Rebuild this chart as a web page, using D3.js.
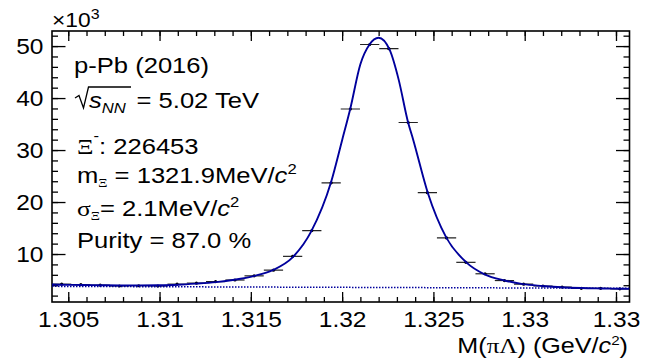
<!DOCTYPE html>
<html>
<head>
<meta charset="utf-8">
<script src="https://cdn.jsdelivr.net/npm/d3@7"></script>
<style>
  body { margin: 0; background: #fff; }
</style>
</head>
<body>
<svg id="chart" width="654" height="361"></svg>
<script>
// invariant mass bins (GeV/c^2) and entries (x10^3)
var binCenters = [1.30464, 1.30569, 1.30675, 1.30780, 1.30886, 1.30991, 1.31096, 1.31202, 1.31307, 1.31413,
                  1.31518, 1.31624, 1.31729, 1.31834, 1.31940, 1.32045, 1.32151, 1.32256, 1.32362, 1.32467,
                  1.32572, 1.32678, 1.32783, 1.32889, 1.32994, 1.33100, 1.33205, 1.33310, 1.33416, 1.33521]
var counts = [4.2, 4.1, 4.0, 3.85, 3.9, 3.85, 4.2, 4.4, 4.7, 5.0,
              5.8, 6.9, 9.55, 14.5, 23.7, 37.9, 50.3, 49.5, 35.3, 21.8,
              13.1, 8.4, 6.2, 4.9, 4.2, 3.85, 3.65, 3.4, 3.4, 3.3]
var binHalfWidth = 0.000527

// fit function (solid)
var fitMass = [1.30411, 1.3046, 1.3057, 1.3068, 1.3078, 1.3089, 1.3099, 1.3110, 1.3120, 1.3131,
               1.3141, 1.3152, 1.3162, 1.3173, 1.3183, 1.3194, 1.3200, 1.32045, 1.3210, 1.3215,
               1.3220, 1.3226, 1.3231, 1.3236, 1.3239, 1.3247, 1.3257, 1.3268, 1.3278, 1.3289,
               1.3299, 1.3310, 1.3320, 1.3331, 1.3342, 1.3352, 1.33574]
var fitCounts = [4.15, 4.1, 4.05, 4.0, 3.97, 3.97, 4.0, 4.1, 4.3, 4.6,
                 5.05, 5.8, 6.9, 9.4, 14.3, 23.9, 31.9, 38.0, 46.5, 50.3,
                 51.6, 49.3, 43.5, 35.5, 31.9, 21.7, 13.2, 8.4, 6.1, 4.9,
                 4.2, 3.85, 3.6, 3.45, 3.38, 3.33, 3.3]
// background (dotted)
var bkgMass = [1.30411, 1.33574]
var bkgCounts = [3.78, 3.40]

var xMajor = [1.305, 1.31, 1.315, 1.32, 1.325, 1.33, 1.335]
var xTickLabels = ["1.305", "1.31", "1.315", "1.32", "1.325", "1.33", "1.33"]
var yMajor = [10, 20, 30, 40, 50]
var yTickLabels = ["10", "20", "30", "40", "50"]

var SX = 1.14      // glyphs in the picture are a bit wider than Helvetica
var SX_TEXT = 1.19 // the legend text even more so
var sans = "'Liberation Sans', Arial, Helvetica, sans-serif"
var serif = "'Liberation Serif', 'Times New Roman', serif"
var fitColor = "#00009c"

var frame = {left: 52, right: 629.5, top: 31, bottom: 302}

var x = d3.scaleLinear().domain([1.30411, 1.33574]).range([frame.left, frame.right])
var y = d3.scaleLinear().domain([0.77, 52.9]).range([frame.bottom, frame.top])

var svg = d3.select("#chart")
svg.append("rect").attr("width", 654).attr("height", 361).attr("fill", "#fff")

svg.append("defs").append("clipPath").attr("id", "plotClip")
  .append("rect")
    .attr("x", frame.left).attr("y", frame.top)
    .attr("width", frame.right - frame.left).attr("height", frame.bottom - frame.top)

var place = function(sel, px, py, sx){
  return sel.attr("transform", "translate(" + px + "," + py + ") scale(" + (sx || SX) + ",1)")
}

/* ticks (ROOT style: inward, mirrored on all sides) */
var xMinor = d3.range(1.305, 1.3355, 0.001)
var yMinor = d3.range(2, 53, 2)

var addAxis = function(axis, tx, ty, cls){
  var g = svg.append("g")
      .attr("class", cls)
      .attr("transform", "translate(" + tx + "," + ty + ")")
      .call(axis)
  g.select(".domain").remove()
  g.selectAll("line").attr("stroke", "#000").attr("stroke-width", 1.3)
  return g
}

addAxis(d3.axisBottom(x).tickValues(xMinor).tickSizeInner(-5).tickFormat(""), 0, frame.bottom, "x-minor")
addAxis(d3.axisTop(x).tickValues(xMinor).tickSizeInner(-5).tickFormat(""), 0, frame.top, "x-minor-top")
addAxis(d3.axisTop(x).tickValues(xMajor).tickSizeInner(-10).tickFormat(""), 0, frame.top, "x-major-top")
var xAxis = addAxis(d3.axisBottom(x).tickValues(xMajor).tickSizeInner(-10)
    .tickFormat(function(d, i){ return xTickLabels[i] }), 0, frame.bottom, "x-axis")
xAxis.selectAll("text")
    .attr("y", null).attr("dy", null)
    .attr("fill", "#000")
    .attr("font-family", sans)
    .attr("font-size", 21.5)
    .attr("text-anchor", "middle")
    .each(function(){ place(d3.select(this), 0, 25) })

addAxis(d3.axisLeft(y).tickValues(yMinor).tickSizeInner(-6).tickFormat(""), frame.left, 0, "y-minor")
addAxis(d3.axisRight(y).tickValues(yMinor).tickSizeInner(-6).tickFormat(""), frame.right, 0, "y-minor-right")
addAxis(d3.axisRight(y).tickValues(yMajor).tickSizeInner(-13.5).tickFormat(""), frame.right, 0, "y-major-right")
var yAxis = addAxis(d3.axisLeft(y).tickValues(yMajor).tickSizeInner(-13.5)
    .tickFormat(function(d, i){ return yTickLabels[i] }), frame.left, 0, "y-axis")
yAxis.selectAll("text")
    .attr("x", null).attr("dy", null)
    .attr("fill", "#000")
    .attr("font-family", sans)
    .attr("font-size", 21.5)
    .attr("text-anchor", "end")
    .each(function(){ place(d3.select(this), -8.5, 7.7) })

/* frame */
svg.append("rect")
    .attr("x", frame.left).attr("y", frame.top)
    .attr("width", frame.right - frame.left).attr("height", frame.bottom - frame.top)
    .attr("fill", "none").attr("stroke", "#000").attr("stroke-width", 1.6)

/* data points with bin-width error bars */
var plot = svg.append("g").attr("clip-path", "url(#plotClip)")

var points = binCenters.map(function(m, i){ return {m: m, c: counts[i]} })

plot.selectAll(".xerr")
    .data(points)
  .enter().append("line")
    .attr("class", "xerr")
    .attr("x1", function(d){ return x(d.m - binHalfWidth) })
    .attr("x2", function(d){ return x(d.m + binHalfWidth) })
    .attr("y1", function(d){ return y(d.c) })
    .attr("y2", function(d){ return y(d.c) })
    .attr("stroke", "#222").attr("stroke-width", 1.2)

plot.selectAll(".marker")
    .data(points)
  .enter().append("circle")
    .attr("class", "marker")
    .attr("cx", function(d){ return x(d.m) })
    .attr("cy", function(d){ return y(d.c) })
    .attr("r", 1.6)
    .attr("fill", "#000")

/* background and total fit */
var bkgLine = d3.line()
    .x(function(d){ return x(d[0]) })
    .y(function(d){ return y(d[1]) })
plot.append("path")
    .datum(bkgMass.map(function(m, i){ return [m, bkgCounts[i]] }))
    .attr("d", bkgLine)
    .attr("fill", "none")
    .attr("stroke", fitColor).attr("stroke-width", 1.5)
    .attr("stroke-dasharray", "1.5,1.5")

var fitLine = d3.line()
    .curve(d3.curveMonotoneX)
    .x(function(d){ return x(d[0]) })
    .y(function(d){ return y(d[1]) })
plot.append("path")
    .datum(fitMass.map(function(m, i){ return [m, fitCounts[i]] }))
    .attr("d", fitLine)
    .attr("fill", "none")
    .attr("stroke", fitColor).attr("stroke-width", 1.9)

/* x10^3 */
var exp3 = place(svg.append("text"), 52, 27)
    .attr("font-family", sans).attr("font-size", 20)
exp3.append("tspan").text("×10")
exp3.append("tspan").attr("font-size", 14).attr("dy", -8).text("3")

/* axis title */
var xTitle = place(svg.append("text"), 628, 353, 1.17)
    .attr("font-family", sans).attr("font-size", 21.5).attr("text-anchor", "end")
xTitle.append("tspan").text("M(")
xTitle.append("tspan").attr("font-family", serif).text("πΛ")
xTitle.append("tspan").text(") (GeV/")
xTitle.append("tspan").attr("font-style", "italic").text("c")
xTitle.append("tspan").attr("font-size", 13).attr("dy", -8).text("2")
xTitle.append("tspan").attr("dy", 8).text(")")

/* info block */
var info = svg.append("g").attr("font-family", sans).attr("font-size", 21.5).attr("fill", "#000")

place(info.append("text"), 74, 73, SX_TEXT).text("p-Pb (2016)")

// sqrt(s_NN)
info.append("path")
    .attr("d", "M75,98 L79,95.5 L83.5,108 L88.5,87 L131,87")
    .attr("fill", "none").attr("stroke", "#000").attr("stroke-width", 1.3)
var l2 = place(info.append("text"), 89, 108, SX_TEXT)
l2.append("tspan").attr("font-style", "italic").text("s")
l2.append("tspan").attr("font-style", "italic").attr("font-size", 14).attr("dy", 5).text("NN")
l2.append("tspan").attr("dy", -5).attr("dx", 3).text(" = 5.02 TeV")

var l3 = place(info.append("text"), 77, 154, SX_TEXT)
l3.append("tspan").attr("font-family", serif).text("Ξ")
l3.append("tspan").attr("font-size", 14).attr("dy", -13).text("-")
l3.append("tspan").attr("dy", 13).text(": 226453")

var l4 = place(info.append("text"), 77, 183, SX_TEXT)
l4.append("tspan").text("m")
l4.append("tspan").attr("font-family", serif).attr("font-size", 12).attr("dy", 4).text("Ξ")
l4.append("tspan").attr("dy", -4).text(" = 1321.9MeV/")
l4.append("tspan").attr("font-style", "italic").text("c")
l4.append("tspan").attr("font-size", 14).attr("dy", -9).text("2")

var l5 = place(info.append("text"), 77, 216, SX_TEXT)
l5.append("tspan").attr("font-family", serif).text("σ")
l5.append("tspan").attr("font-family", serif).attr("font-size", 12).attr("dy", 4).text("Ξ")
l5.append("tspan").attr("dy", -4).text("= 2.1MeV/")
l5.append("tspan").attr("font-style", "italic").text("c")
l5.append("tspan").attr("font-size", 14).attr("dy", -9).text("2")

place(info.append("text"), 77, 248, SX_TEXT).text("Purity = 87.0 %")
</script>
</body>
</html>
